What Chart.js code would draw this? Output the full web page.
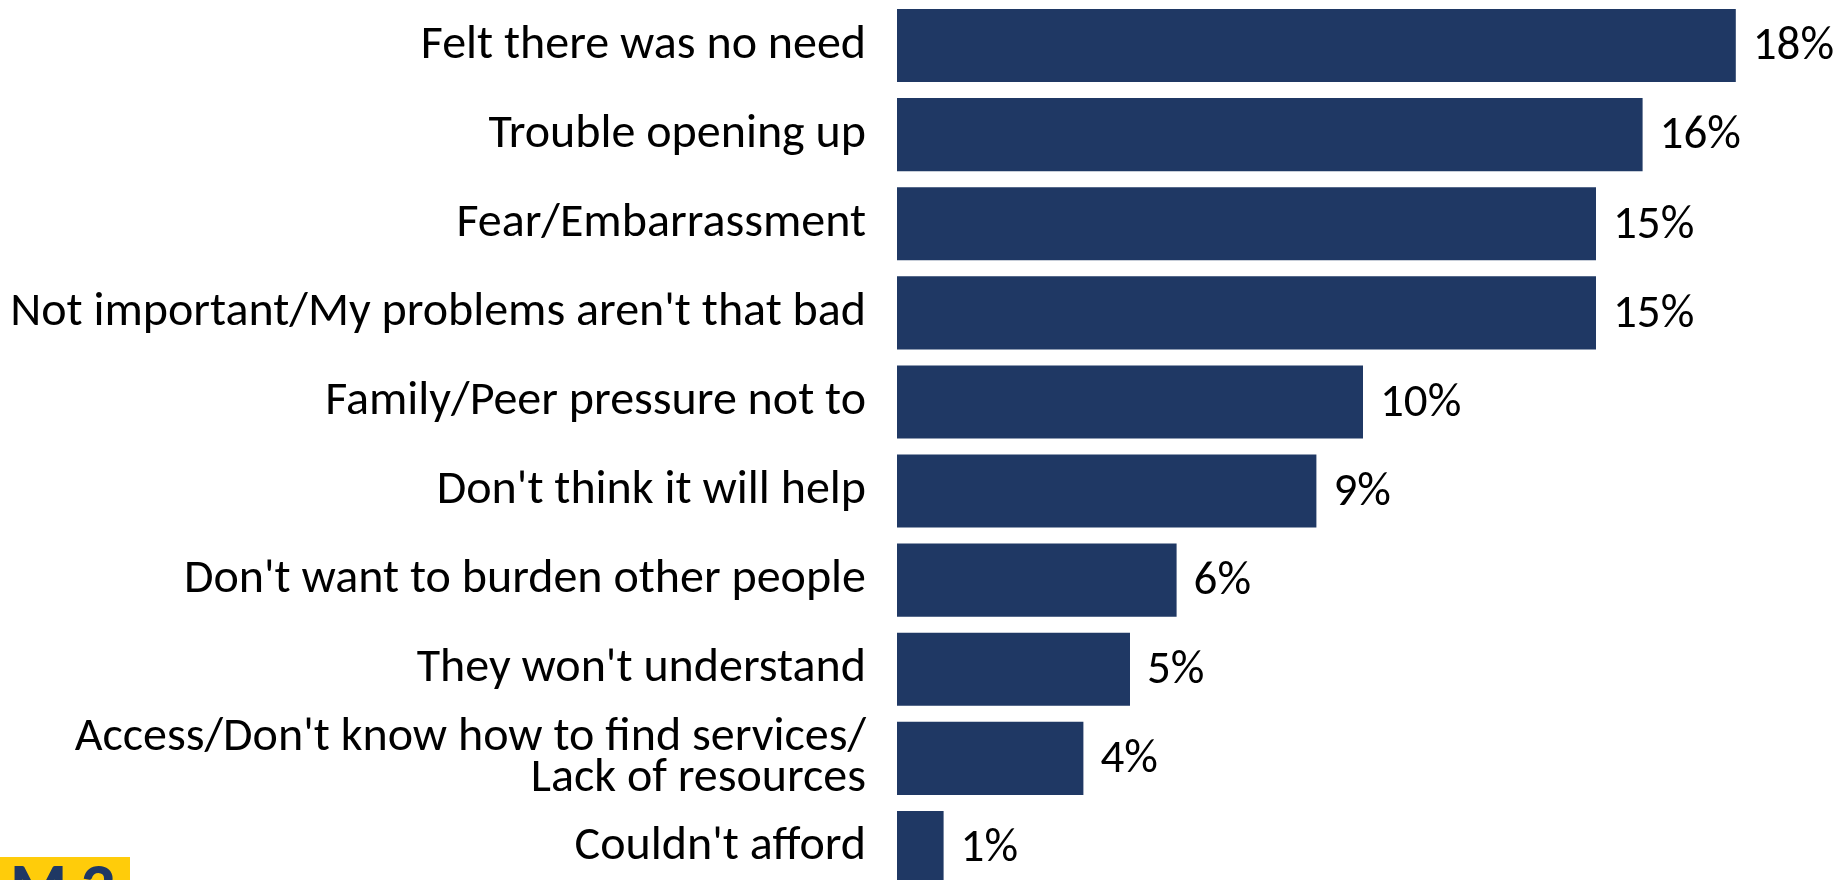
<!DOCTYPE html>
<html>
<head>
<meta charset="utf-8">
<script src="https://cdn.jsdelivr.net/npm/chart.js@4.4.1/dist/chart.umd.min.js"></script>
<style>
  html, body { margin: 0; padding: 0; background: #fff; overflow: hidden; }
  #wrap { position: relative; width: 1844px; height: 880px; overflow: hidden; }
  #box { position: absolute; left: 0; top: 0; width: 1844px; height: 894px; }
  #badge {
    position: absolute; left: 0; top: 857px; width: 130px; height: 40px;
    background: #ffcc0a; color: #1f3864; overflow: hidden;
    font: 900 60px Lato, "DejaVu Sans", sans-serif;
    line-height: 60px; padding-left: 10px; box-sizing: border-box; letter-spacing: 14px;
  }
</style>
</head>
<body>
<div id="wrap">
  <div id="box"><canvas id="myChart"></canvas></div>
  <div id="badge">M2</div>
</div>
<script>
const reasons = [
  "Felt there was no need",
  "Trouble opening up",
  "Fear/Embarrassment",
  "Not important/My problems aren't that bad",
  "Family/Peer pressure not to",
  "Don't think it will help",
  "Don't want to burden other people",
  "They won't understand",
  ["Access/Don't know how to find services/", "Lack of resources"],
  "Couldn't afford"
];
const shares = [18, 16, 15, 15, 10, 9, 6, 5, 4, 1];

const fontFamily = "Carlito, Lato, 'Open Sans', sans-serif";

// writes "n%" just past the end of each bar
const valueLabels = {
  id: 'valueLabels',
  afterDatasetsDraw(chart) {
    const ctx = chart.ctx;
    const meta = chart.getDatasetMeta(0);
    ctx.save();
    ctx.font = '47px ' + fontFamily;
    ctx.fillStyle = '#000';
    ctx.textAlign = 'left';
    ctx.textBaseline = 'middle';
    meta.data.forEach((bar, i) => {
      ctx.fillText(shares[i] + '%', bar.x + 17, bar.y + 2);
    });
    ctx.restore();
  }
};

const ctx = document.getElementById('myChart');
new Chart(ctx, {
  type: 'bar',
  data: {
    labels: reasons,
    datasets: [{
      data: shares,
      backgroundColor: '#1f3864',
      barPercentage: 0.82,
      categoryPercentage: 1
    }]
  },
  options: {
    indexAxis: 'y',
    responsive: true,
    maintainAspectRatio: false,
    animation: false,
    layout: { padding: { top: 1, bottom: 2, left: 0, right: 15 } },
    scales: {
      x: {
        display: false,
        min: 0,
        max: 20
      },
      y: {
        grid: { display: false, drawTicks: false },
        border: { display: false },
        afterFit(scale) {
          scale.width = 897;
          // labels may hang past the plot edge; keep the bands full height
          scale.paddingTop = 0;
          scale.paddingBottom = 0;
        },
        ticks: {
          autoSkip: false,
          padding: 31,
          color: '#000',
          font: { family: fontFamily, size: 48, lineHeight: 0.84 }
        }
      }
    },
    plugins: {
      legend: { display: false },
      tooltip: { enabled: false }
    }
  },
  plugins: [valueLabels]
});
</script>
</body>
</html>
